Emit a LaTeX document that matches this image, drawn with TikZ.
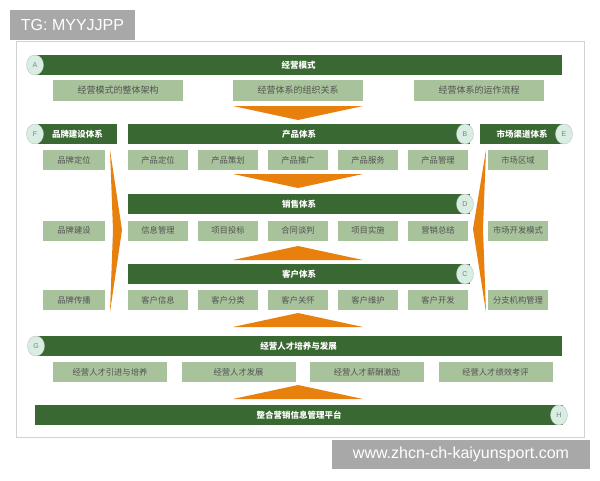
\documentclass[tikz,border=0pt]{standalone}
\usepackage{fontspec}
\setmainfont{Liberation Sans}
\newfontfamily\cjk{Noto Sans CJK SC}
\usetikzlibrary{shapes.geometric}

\definecolor{verdeesc}{RGB}{58,104,50}
\definecolor{verdecl}{RGB}{168,195,155}
\definecolor{laranja}{RGB}{232,128,14}
\definecolor{menta}{RGB}{216,238,226}
\definecolor{cinza}{RGB}{168,168,168}

\def\esqprod{158}
\def\passo{70}
\def\esqtal{110}
\def\passotal{128.5}

\tikzset{
  barra/.style={fill=verdeesc, text=white, font=\cjk\bfseries\fontsize{8.5}{8.5}\selectfont, minimum height=20pt, inner sep=0pt},
  caixa/.style={fill=verdecl, text=black!68, font=\cjk\fontsize{8.3}{8.3}\selectfont, minimum height=20pt, inner sep=0pt},
  letra/.style={ellipse, fill=menta, draw=gray!50, minimum width=17pt, minimum height=20pt, inner sep=0pt, text=gray, font=\fontsize{7}{7}\selectfont},
  seta/.style={fill=laranja},
  marca/.style={fill=cinza, text=white, font=\fontsize{16}{16}\selectfont, inner sep=0pt}
}

\begin{document}
\begin{tikzpicture}[x=1pt,y=-1pt]
\useasboundingbox (0,0) rectangle (600,480);

%moldura
    \draw[gray!35, line width=1pt, fill=white] (16,41) rectangle (584,437);
    \node[marca, minimum width=125pt, minimum height=30pt] (tg) at (72.5,25) {TG: MYYJJPP};
    \node[marca, minimum width=258pt, minimum height=29pt] (site) at (461,454.5) {www.zhcn-ch-kaiyunsport.com};

%setas
    \foreach \y in {106,174}
        \fill[seta] (233,\y) -- (363,\y) -- (298,\y+14) -- cycle;
    \foreach \y in {260,327,399}
        \fill[seta] (233,\y) -- (363,\y) -- (298,\y-14) -- cycle;
    \fill[seta] (110,150) -- (122,230) -- (110,312) -- (113,230) -- cycle;
    \fill[seta] (486,150) -- (473,229) -- (486,312) -- (483,229) -- cycle;

%A
    \node[barra, minimum width=527pt] (modo) at (298.5,65) {经营模式};
    \node[caixa, minimum width=130pt, minimum height=21pt, font=\cjk\fontsize{9}{9}\selectfont] (arq) at (118,90.5) {经营模式的整体架构};
    \node[caixa, minimum width=130pt, minimum height=21pt, font=\cjk\fontsize{9}{9}\selectfont] (org) at (298,90.5) {经营体系的组织关系};
    \node[caixa, minimum width=130pt, minimum height=21pt, font=\cjk\fontsize{9}{9}\selectfont] (flx) at (479,90.5) {经营体系的运作流程};

%F, B, E
    \node[barra, minimum width=79pt] (marcasis) at (77.5,134) {品牌建设体系};
    \node[barra, minimum width=342pt] (prodsis) at (299,134) {产品体系};
    \node[barra, minimum width=84pt] (mercsis) at (522,134) {市场渠道体系};

    \foreach \t [count=\i from 0] in {产品定位,产品策划,产品推广,产品服务,产品管理}
        \node[caixa, minimum width=60pt] (prod\i) at (\esqprod+\i*\passo,160) {\t};

%D
    \node[barra, minimum width=342pt] (vendsis) at (299,204) {销售体系};
    \foreach \t [count=\i from 0] in {信息管理,项目投标,合同谈判,项目实施,营销总结}
        \node[caixa, minimum width=60pt] (vend\i) at (\esqprod+\i*\passo,230.5) {\t};

%C
    \node[barra, minimum width=342pt] (clisis) at (299,274) {客户体系};
    \foreach \t [count=\i from 0] in {客户信息,客户分类,客户关怀,客户维护,客户开发}
        \node[caixa, minimum width=60pt] (cli\i) at (\esqprod+\i*\passo,300) {\t};

%colunas laterais
    \node[caixa, minimum width=62pt] (marca1) at (74,160) {品牌定位};
    \node[caixa, minimum width=62pt] (marca2) at (74,230.5) {品牌建设};
    \node[caixa, minimum width=62pt] (marca3) at (74,300) {品牌传播};
    \node[caixa, minimum width=60pt] (merc1) at (518,160) {市场区域};
    \node[caixa, minimum width=60pt] (merc2) at (518,230.5) {市场开发模式};
    \node[caixa, minimum width=60pt] (merc3) at (518,300) {分支机构管理};

%G
    \node[barra, minimum width=527pt] (talsis) at (298.5,346) {经营人才培养与发展};
    \foreach \t [count=\i from 0] in {经营人才引进与培养,经营人才发展,经营人才薪酬激励,经营人才绩效考评}
        \node[caixa, minimum width=114pt] (tal\i) at (\esqtal+\i*\passotal,372) {\t};

%H
    \node[barra, minimum width=528pt] (plat) at (299,415) {整合营销信息管理平台};

%letras
    \node[letra] (la) at (35,65) {A};
    \node[letra] (lf) at (35,134) {F};
    \node[letra] (lb) at (465,134) {B};
    \node[letra] (le) at (564,134) {E};
    \node[letra] (ld) at (465,204) {D};
    \node[letra] (lc) at (465,274) {C};
    \node[letra] (lg) at (36,346) {G};
    \node[letra] (lh) at (559,415) {H};

\end{tikzpicture}
\end{document}
